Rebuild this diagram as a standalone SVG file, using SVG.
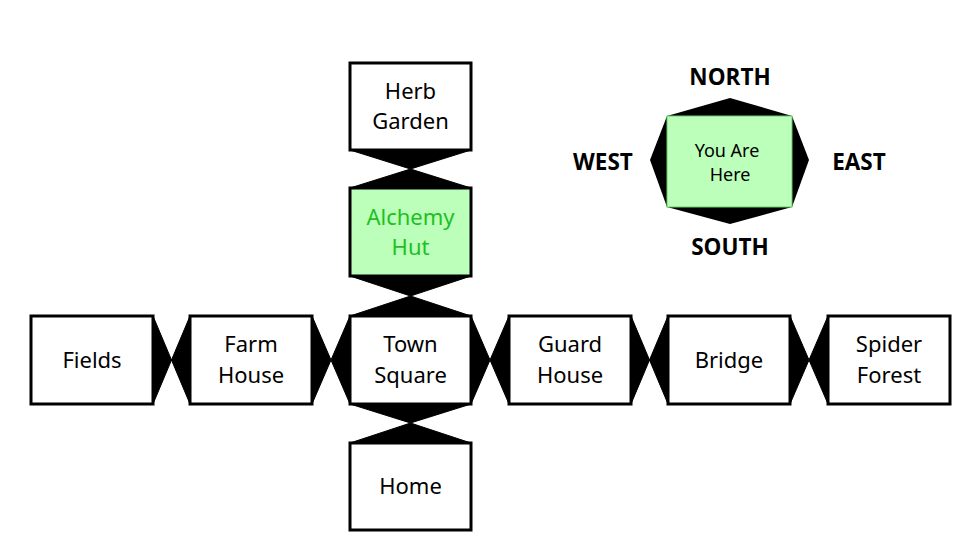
<svg xmlns="http://www.w3.org/2000/svg" width="976" height="555" viewBox="0 0 976 555">
<style>
.box{fill:#fff;stroke:#000;stroke-width:3}
.cur{fill:#bbffbb;stroke:#000;stroke-width:3}
.conn{fill:#000;stroke:#000;stroke-width:1}
.t{font-family:"Noto Sans","Open Sans",sans-serif;font-size:22px;fill:#000;text-anchor:middle}
.tg{fill:#1fbf1f}
.dir{font-family:"Open Sans","Noto Sans",sans-serif;font-size:22.5px;font-weight:bold;fill:#000;text-anchor:middle}
.yah{font-family:"Noto Sans","Open Sans",sans-serif;font-size:18px;fill:#000;text-anchor:middle}
</style>
<rect width="976" height="555" fill="#fff"/>
<g id="connectors">
<polygon class="conn" points="350,150 471,150 410.5,169 471,188 350,188 410.5,169"/>
<polygon class="conn" points="350,276 471,276 410.5,296 471,316 350,316 410.5,296"/>
<polygon class="conn" points="350,404 471,404 410.5,423 471,443 350,443 410.5,423"/>
<polygon class="conn" points="153,316 171.5,360 190,316 190,404 171.5,360 153,404"/>
<polygon class="conn" points="312,316 331,360 350,316 350,404 331,360 312,404"/>
<polygon class="conn" points="471,316 490,360 509,316 509,404 490,360 471,404"/>
<polygon class="conn" points="631,316 649.5,360 668,316 668,404 649.5,360 631,404"/>
<polygon class="conn" points="790,316 809,360 828,316 828,404 809,360 790,404"/>
</g>
<g id="herb-garden">
<rect class="box" x="350" y="63" width="121" height="87"/>
<text class="t" x="410.5" y="99">Herb</text>
<text class="t" x="410.5" y="129">Garden</text>
</g>
<g id="alchemy-hut">
<rect class="cur" x="350" y="188" width="121" height="88"/>
<text class="t tg" x="410.5" y="225">Alchemy</text>
<text class="t tg" x="410.5" y="255">Hut</text>
</g>
<g id="town-square">
<rect class="box" x="350" y="316" width="121" height="88"/>
<text class="t" x="410.5" y="352">Town</text>
<text class="t" x="410.5" y="383">Square</text>
</g>
<g id="home">
<rect class="box" x="350" y="443" width="121" height="87"/>
<text class="t" x="410.5" y="494">Home</text>
</g>
<g id="fields">
<rect class="box" x="31" y="316" width="122" height="88"/>
<text class="t" x="92" y="368">Fields</text>
</g>
<g id="farm-house">
<rect class="box" x="190" y="316" width="122" height="88"/>
<text class="t" x="251" y="352">Farm</text>
<text class="t" x="251" y="383">House</text>
</g>
<g id="guard-house">
<rect class="box" x="509" y="316" width="122" height="88"/>
<text class="t" x="570" y="352">Guard</text>
<text class="t" x="570" y="383">House</text>
</g>
<g id="bridge">
<rect class="box" x="668" y="316" width="122" height="88"/>
<text class="t" x="729" y="368">Bridge</text>
</g>
<g id="spider-forest">
<rect class="box" x="828" y="316" width="122" height="88"/>
<text class="t" x="889" y="352">Spider</text>
<text class="t" x="889" y="383">Forest</text>
</g>
<g id="compass">
<polygon fill="#000" points="667,116 730,98 792,116 809,160 792,207 730,224 667,207 650,160"/>
<rect x="667" y="116" width="125" height="91" fill="#bbffbb" stroke="#66cc66" stroke-width="1"/>
<text class="yah" x="727" y="157">You Are</text>
<text class="yah" x="730" y="181">Here</text>
<text class="dir" x="730" y="85">NORTH</text>
<text class="dir" x="730" y="255">SOUTH</text>
<text class="dir" x="603" y="170">WEST</text>
<text class="dir" x="859" y="170">EAST</text>
</g>
</svg>
